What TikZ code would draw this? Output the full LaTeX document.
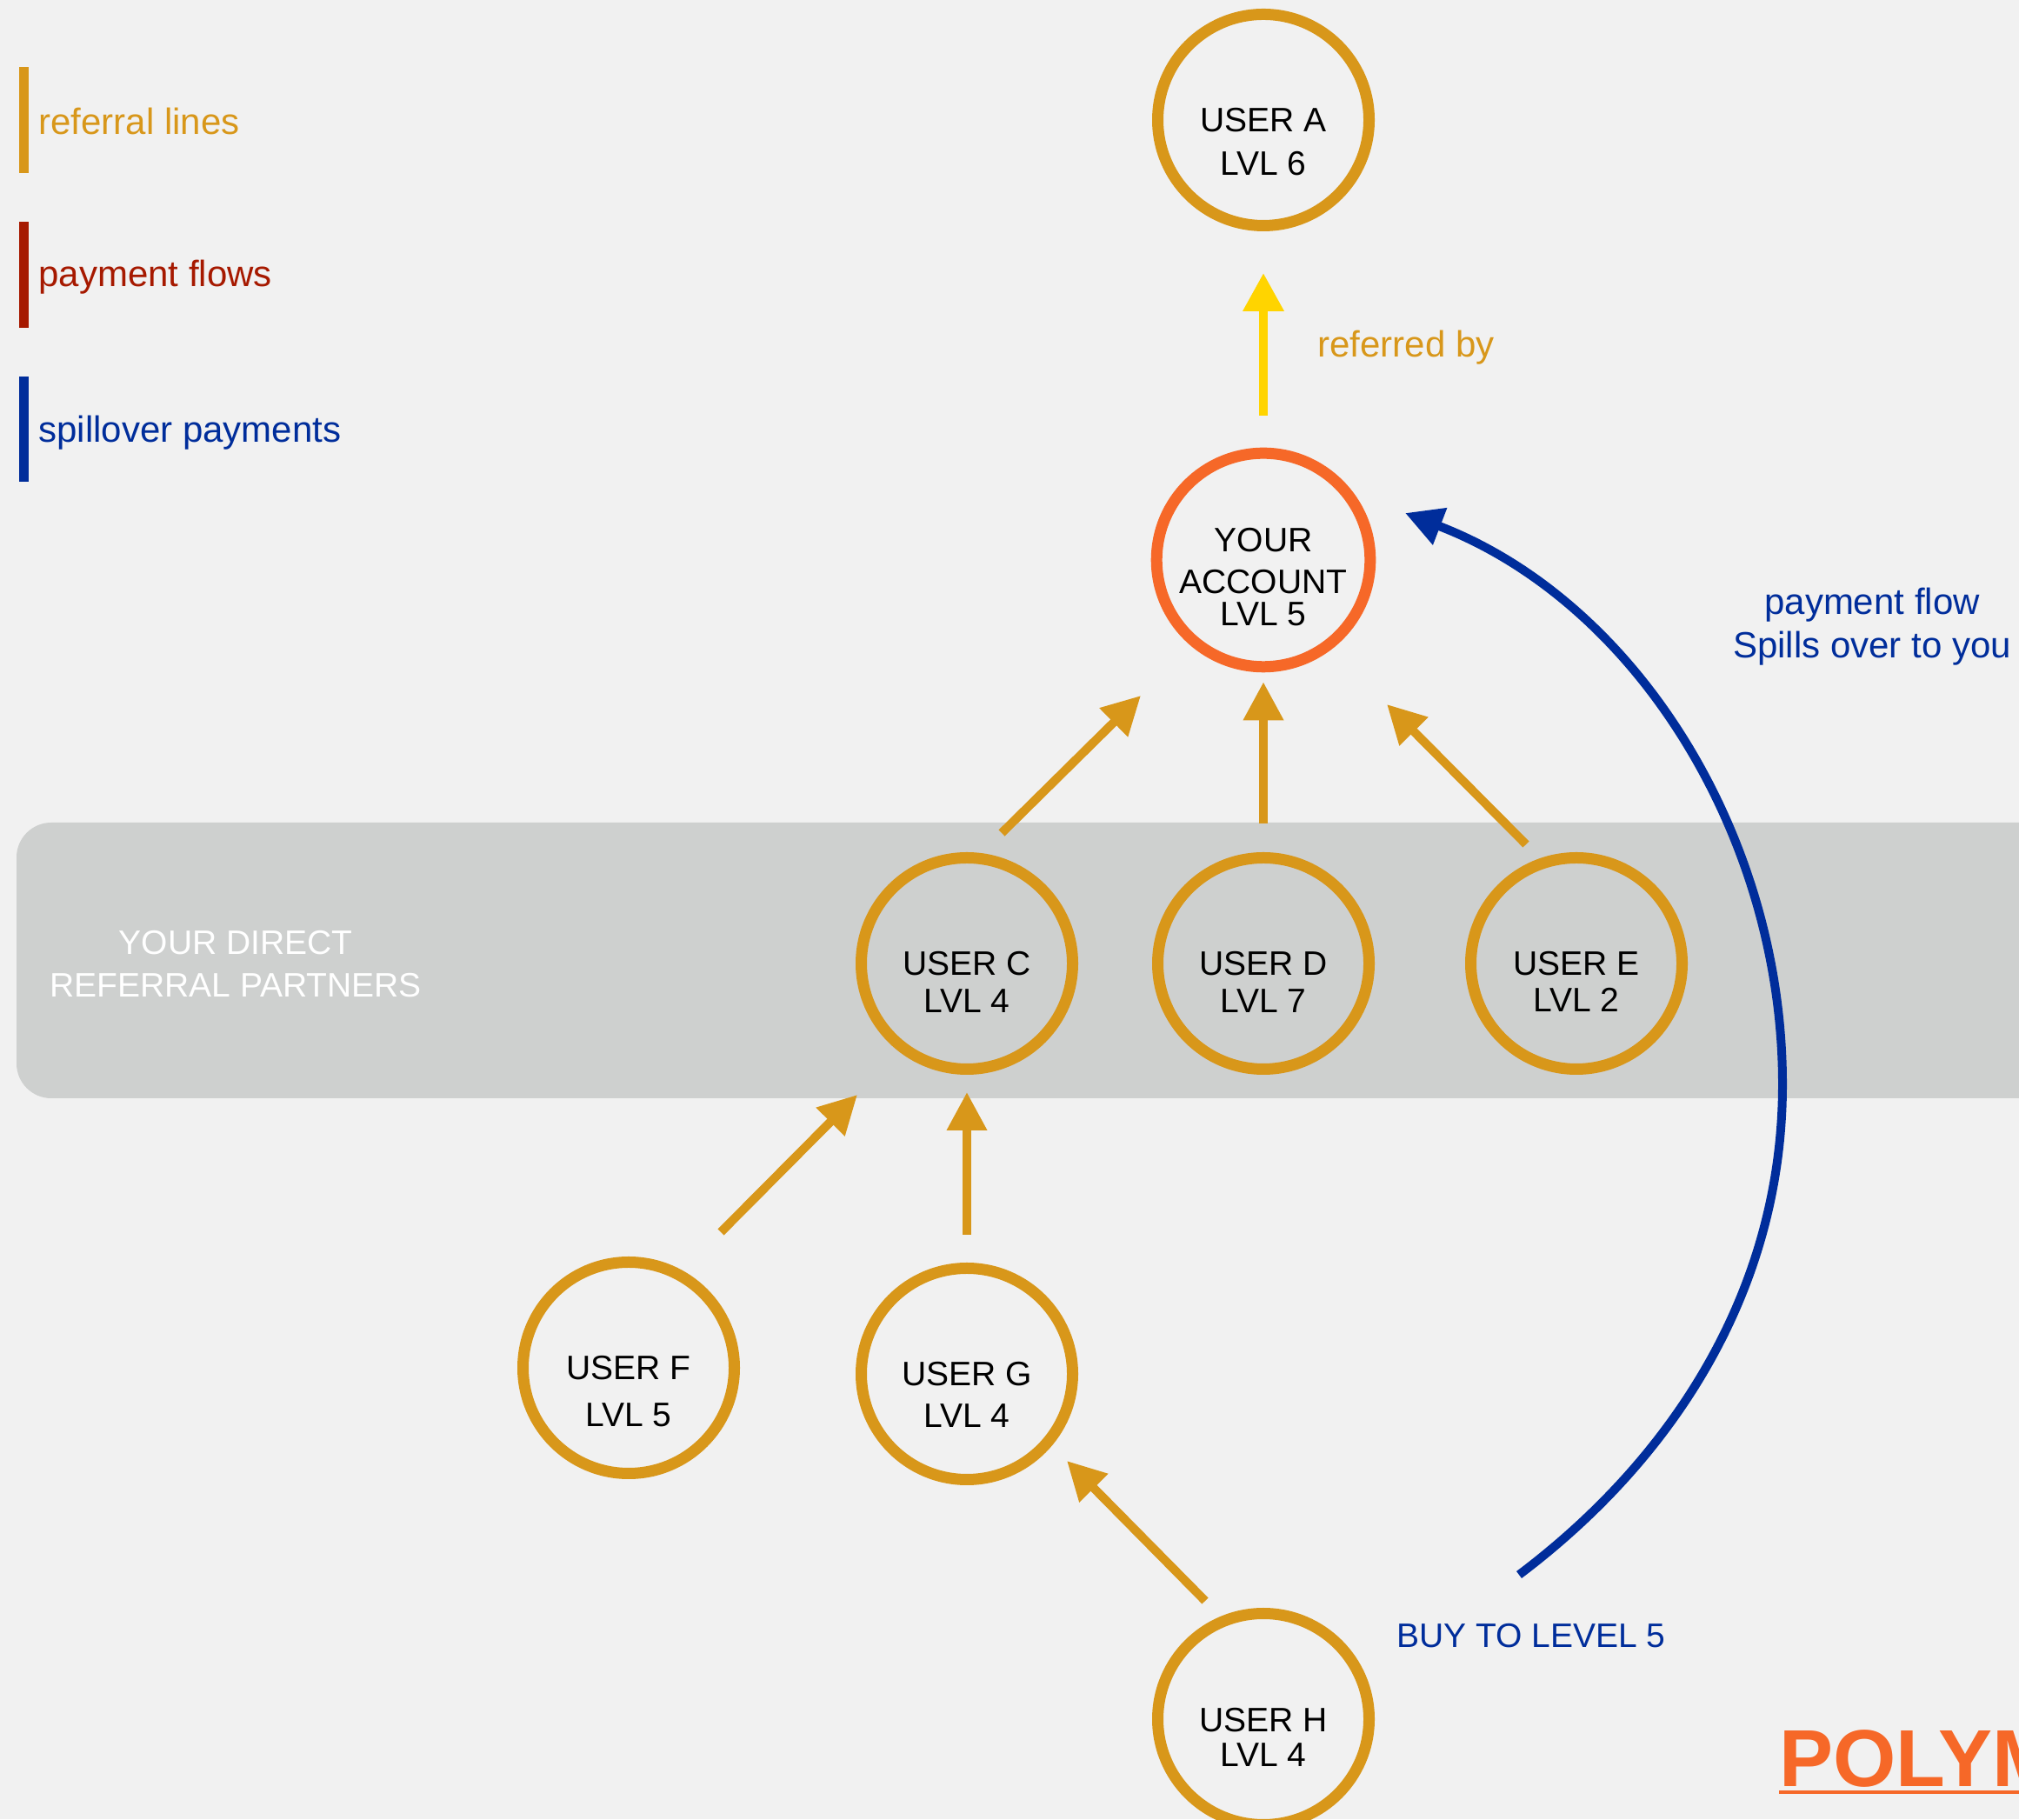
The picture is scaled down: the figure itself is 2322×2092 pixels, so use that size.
\documentclass[tikz,border=0pt]{standalone}
\usepackage{fontspec}
\setmainfont{Liberation Sans}
\usetikzlibrary{arrows.meta,calc}

\definecolor{pagebg}{RGB}{241,241,241}
\definecolor{bandgray}{RGB}{206,208,207}
\definecolor{refgold}{RGB}{216,151,26}
\definecolor{acctorange}{RGB}{246,104,40}
\definecolor{refyellow}{RGB}{255,212,0}
\definecolor{spillblue}{RGB}{0,45,155}
\definecolor{payred}{RGB}{166,25,0}

\tikzset{
  user/.style={circle, draw=refgold, line width=6.5pt, minimum size=121.5pt,
    inner sep=0pt, align=center, text height=#1, text depth=0pt,
    font=\fontsize{19.5}{25}\selectfont},
  user/.default=57pt,
  refline/.style={refgold, line width=5pt, -{Triangle[length=22pt,width=22pt]}},
  upline/.style={refyellow, line width=5pt, -{Triangle[length=22pt,width=22.5pt]}},
  spillline/.style={spillblue, line width=5pt, -{Triangle[length=21.5pt,width=21.5pt]}},
  legendtext/.style={anchor=base west, inner sep=0pt, font=\fontsize{21}{25}\selectfont},
}

\begin{document}
\begin{tikzpicture}[x=0.5pt, y=0.5pt]
      \useasboundingbox (0,0) rectangle (2322,2092);
      \clip (0,0) rectangle (2322,2092);
      \fill[pagebg] (0,0) rectangle (2322,2092);

      % band of direct partners
      \fill[bandgray, rounded corners=20pt] (19,829) rectangle (2400,1146);
      \node[font=\fontsize{19.5}{24.5}\selectfont, text=white, align=center, anchor=base] (direct) at (271,945) {YOUR DIRECT\\REFERRAL PARTNERS};

      % legend
      \fill[refgold] (22,1893) rectangle (33,2015);
      \fill[payred] (22,1715) rectangle (33,1837);
      \fill[spillblue] (22,1538) rectangle (33,1659);
      \node[legendtext, text=refgold] (lgref) at (44,1937) {referral lines};
      \node[legendtext, text=payred] (lgpay) at (44,1762) {payment flows};
      \node[legendtext, text=spillblue] (lgspill) at (44,1583) {spillover payments};

      \node[user=64pt] (a) at (1453,1954) {USER A\\LVL 6};
      \node[user=76pt, draw=acctorange] (you) at (1453,1448) {YOUR\\[-1pt]ACCOUNT\\[-6.5pt]LVL 5};
      \node[user] (c) at (1112,984) {USER C\\[-3.5pt]LVL 4};
      \node[user] (d) at (1453,984) {USER D\\[-3.5pt]LVL 7};
      \node[user=56pt] (e) at (1813,984) {USER E\\[-4pt]LVL 2};
      \node[user=68pt] (f) at (723,519) {USER F\\[2pt]LVL 5};
      \node[user=62pt] (g) at (1112,512) {USER G\\[-1pt]LVL 4};
      \node[user=54pt] (h) at (1453,115) {USER H\\[-5pt]LVL 4};

      \draw[upline, shorten <=18.5pt, shorten >=24pt] (you) -- (a);
      \node[legendtext, text=refgold] (refby) at (1515,1681) {referred by};

      \draw[refline] ($(c)+(40,150)$) -- ($(you)+(-141,-156)$);
      \draw[refline, shorten <=16.5pt, shorten >=5.5pt] (d) -- (you);
      \draw[refline] ($(e)+(-58,137)$) -- ($(you)+(142,-166)$);
      \draw[refline] ($(f)+(106,156)$) -- ($(c)+(-126,-151)$);
      \draw[refline, shorten <=16pt, shorten >=10pt] (g) -- (c);
      \draw[refline] ($(h)+(-67,136)$) -- ($(g)+(115,-100)$);

      % spillover
      \node[legendtext, font=\fontsize{19.5}{24}\selectfont, text=spillblue] (buy) at (1606,197) {BUY TO LEVEL 5};
      \coordinate (spillturn) at (2050,845);
      \draw[spillline] ($(h)+(294,166)$) .. controls +(37:230) and +(0,-230) .. (spillturn)
            .. controls +(0,285) and +(-21:285) .. ($(you)+(163,54)$);
      \node[font=\fontsize{21}{25}\selectfont, text=spillblue, align=center, anchor=base] (spilltext) at (2153,1335) {payment flow\\Spills over to you};

      \node[anchor=base west, inner sep=0pt, font=\fontsize{46.5}{50}\selectfont\bfseries, text=acctorange] (brand) at (2046,38) {POLYM};
      \draw[acctorange, line width=2pt] ([yshift=-3.5pt]brand.base west) -- ++(400,0);
\end{tikzpicture}
\end{document}
